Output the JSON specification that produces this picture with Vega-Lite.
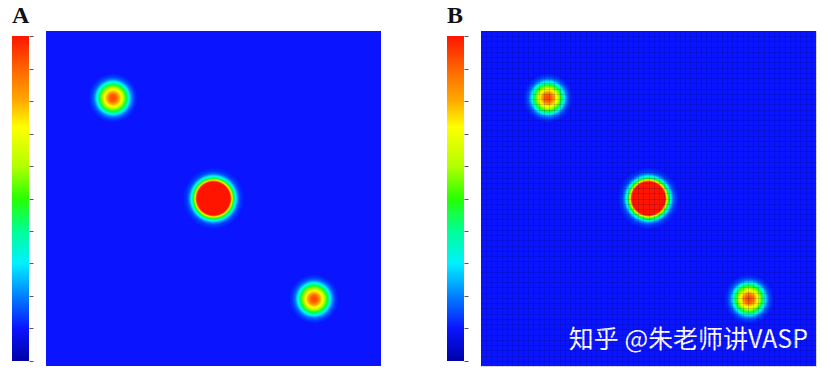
{
  "$schema": "https://vega.github.io/schema/vega-lite/v6.json",
  "padding": {"left": 12, "top": 4, "right": 5, "bottom": 5},
  "background": "#ffffff",
  "config": {"view": {"stroke": null}},
  "datasets": {
    "bg": [{"x0": 0, "x1": 64, "y0": 0, "y1": 64, "v": 0.1}],
    "bar": [{"lo": 0, "hi": 1}],
    "rings": [
      {"b": 1, "x": 12.8, "y": 51.2, "r": 5.16, "v": 0.11},
      {"b": 1, "x": 12.8, "y": 51.2, "r": 4.78, "v": 0.12},
      {"b": 1, "x": 12.8, "y": 51.2, "r": 4.59, "v": 0.135},
      {"b": 1, "x": 12.8, "y": 51.2, "r": 4.39, "v": 0.155},
      {"b": 1, "x": 12.8, "y": 51.2, "r": 4.2, "v": 0.18},
      {"b": 1, "x": 12.8, "y": 51.2, "r": 4.01, "v": 0.22},
      {"b": 1, "x": 12.8, "y": 51.2, "r": 3.82, "v": 0.26},
      {"b": 1, "x": 12.8, "y": 51.2, "r": 3.63, "v": 0.31},
      {"b": 1, "x": 12.8, "y": 51.2, "r": 3.44, "v": 0.36},
      {"b": 1, "x": 12.8, "y": 51.2, "r": 3.25, "v": 0.41},
      {"b": 1, "x": 12.8, "y": 51.2, "r": 3.06, "v": 0.45},
      {"b": 1, "x": 12.8, "y": 51.2, "r": 2.87, "v": 0.49},
      {"b": 1, "x": 12.8, "y": 51.2, "r": 2.67, "v": 0.53},
      {"b": 1, "x": 12.8, "y": 51.2, "r": 2.48, "v": 0.57},
      {"b": 1, "x": 12.8, "y": 51.2, "r": 2.29, "v": 0.62},
      {"b": 1, "x": 12.8, "y": 51.2, "r": 2.1, "v": 0.67},
      {"b": 1, "x": 12.8, "y": 51.2, "r": 1.91, "v": 0.72},
      {"b": 1, "x": 12.8, "y": 51.2, "r": 1.72, "v": 0.75},
      {"b": 1, "x": 12.8, "y": 51.2, "r": 1.53, "v": 0.79},
      {"b": 1, "x": 12.8, "y": 51.2, "r": 1.34, "v": 0.82},
      {"b": 1, "x": 12.8, "y": 51.2, "r": 1.15, "v": 0.855},
      {"b": 1, "x": 12.8, "y": 51.2, "r": 0.96, "v": 0.89},
      {"b": 1, "x": 12.8, "y": 51.2, "r": 0.76, "v": 0.91},
      {"b": 1, "x": 12.8, "y": 51.2, "r": 0.57, "v": 0.93},
      {"b": 1, "x": 12.8, "y": 51.2, "r": 0.29, "v": 0.95},
      {"b": 2, "x": 32, "y": 32, "r": 6.5, "v": 0.108},
      {"b": 2, "x": 32, "y": 32, "r": 6.11, "v": 0.118},
      {"b": 2, "x": 32, "y": 32, "r": 5.73, "v": 0.14},
      {"b": 2, "x": 32, "y": 32, "r": 5.54, "v": 0.16},
      {"b": 2, "x": 32, "y": 32, "r": 5.35, "v": 0.2},
      {"b": 2, "x": 32, "y": 32, "r": 5.16, "v": 0.25},
      {"b": 2, "x": 32, "y": 32, "r": 4.97, "v": 0.31},
      {"b": 2, "x": 32, "y": 32, "r": 4.78, "v": 0.37},
      {"b": 2, "x": 32, "y": 32, "r": 4.59, "v": 0.43},
      {"b": 2, "x": 32, "y": 32, "r": 4.39, "v": 0.5},
      {"b": 2, "x": 32, "y": 32, "r": 4.2, "v": 0.58},
      {"b": 2, "x": 32, "y": 32, "r": 4.01, "v": 0.68},
      {"b": 2, "x": 32, "y": 32, "r": 3.92, "v": 0.78},
      {"b": 2, "x": 32, "y": 32, "r": 3.82, "v": 0.88},
      {"b": 2, "x": 32, "y": 32, "r": 3.73, "v": 0.96},
      {"b": 2, "x": 32, "y": 32, "r": 3.63, "v": 1.0},
      {"b": 3, "x": 51.2, "y": 12.8, "r": 5.16, "v": 0.11},
      {"b": 3, "x": 51.2, "y": 12.8, "r": 4.78, "v": 0.12},
      {"b": 3, "x": 51.2, "y": 12.8, "r": 4.59, "v": 0.135},
      {"b": 3, "x": 51.2, "y": 12.8, "r": 4.39, "v": 0.155},
      {"b": 3, "x": 51.2, "y": 12.8, "r": 4.2, "v": 0.18},
      {"b": 3, "x": 51.2, "y": 12.8, "r": 4.01, "v": 0.22},
      {"b": 3, "x": 51.2, "y": 12.8, "r": 3.82, "v": 0.26},
      {"b": 3, "x": 51.2, "y": 12.8, "r": 3.63, "v": 0.31},
      {"b": 3, "x": 51.2, "y": 12.8, "r": 3.44, "v": 0.36},
      {"b": 3, "x": 51.2, "y": 12.8, "r": 3.25, "v": 0.41},
      {"b": 3, "x": 51.2, "y": 12.8, "r": 3.06, "v": 0.45},
      {"b": 3, "x": 51.2, "y": 12.8, "r": 2.87, "v": 0.49},
      {"b": 3, "x": 51.2, "y": 12.8, "r": 2.67, "v": 0.53},
      {"b": 3, "x": 51.2, "y": 12.8, "r": 2.48, "v": 0.57},
      {"b": 3, "x": 51.2, "y": 12.8, "r": 2.29, "v": 0.62},
      {"b": 3, "x": 51.2, "y": 12.8, "r": 2.1, "v": 0.67},
      {"b": 3, "x": 51.2, "y": 12.8, "r": 1.91, "v": 0.72},
      {"b": 3, "x": 51.2, "y": 12.8, "r": 1.72, "v": 0.75},
      {"b": 3, "x": 51.2, "y": 12.8, "r": 1.53, "v": 0.79},
      {"b": 3, "x": 51.2, "y": 12.8, "r": 1.34, "v": 0.82},
      {"b": 3, "x": 51.2, "y": 12.8, "r": 1.15, "v": 0.855},
      {"b": 3, "x": 51.2, "y": 12.8, "r": 0.96, "v": 0.89},
      {"b": 3, "x": 51.2, "y": 12.8, "r": 0.76, "v": 0.91},
      {"b": 3, "x": 51.2, "y": 12.8, "r": 0.57, "v": 0.93},
      {"b": 3, "x": 51.2, "y": 12.8, "r": 0.29, "v": 0.95}
    ]
  },
  "spacing": 66,
  "hconcat": [
    {
      "spacing": 12,
      "hconcat": [
        {
          "width": 17,
          "height": 335,
          "title": {"text": "A", "anchor": "start", "frame": "group", "font": "Liberation Serif", "fontSize": 24, "fontWeight": "bold", "color": "#111111", "offset": 3},
          "data": {"name": "bar"},
          "mark": {"type": "rect", "fill": {"gradient": "linear", "x1": 0, "y1": 0, "x2": 0, "y2": 1, "stops": [
            {"offset": 0, "color": "#ff1400"}, {"offset": 0.1, "color": "#ff6400"}, {"offset": 0.2, "color": "#ffaa00"},
            {"offset": 0.28, "color": "#ffff00"}, {"offset": 0.4, "color": "#b4ff00"}, {"offset": 0.5, "color": "#28ff00"},
            {"offset": 0.6, "color": "#00ff96"}, {"offset": 0.7, "color": "#00f0ff"}, {"offset": 0.8, "color": "#0080ff"},
            {"offset": 0.9, "color": "#0a14ff"}, {"offset": 1, "color": "#0000a8"}]}},
          "encoding": {
            "y": {"field": "lo", "type": "quantitative", "scale": {"domain": [-0.0154, 1.0154], "nice": false, "zero": false},
              "axis": {"orient": "right", "values": [0, 0.1, 0.2, 0.3, 0.4, 0.5, 0.6, 0.7, 0.8, 0.9, 1], "labels": false, "domain": false, "grid": false, "ticks": true, "tickSize": 4, "tickColor": "#555555", "tickWidth": 1, "title": null}},
            "y2": {"field": "hi"}
          }
        },
        {
          "width": 335,
          "height": 335,
          "layer": [
            {
              "data": {"name": "bg"},
              "mark": {"type": "rect"},
              "encoding": {
                "x": {"field": "x0", "type": "quantitative", "scale": {"domain": [0, 64], "nice": false, "zero": false}, "axis": null},
                "x2": {"field": "x1"},
                "y": {"field": "y0", "type": "quantitative", "scale": {"domain": [0, 64], "nice": false, "zero": false}, "axis": null},
                "y2": {"field": "y1"},
                "color": {"field": "v", "type": "quantitative", "legend": null, "scale": {"domain": [0, 0.1, 0.2, 0.3, 0.4, 0.5, 0.6, 0.72, 0.8, 0.9, 1], "range": ["#0000a8", "#0a14ff", "#0080ff", "#00f0ff", "#00ff96", "#28ff00", "#b4ff00", "#ffff00", "#ffaa00", "#ff6400", "#ff1400"]}}
              }
            },
            {
              "data": {"name": "rings"},
              "mark": {"type": "circle", "opacity": 1, "strokeWidth": 0},
              "encoding": {
                "x": {"field": "x", "type": "quantitative", "axis": null},
                "y": {"field": "y", "type": "quantitative", "axis": null},
                "size": {"field": "r", "type": "quantitative", "legend": null, "scale": {"type": "pow", "exponent": 2, "domain": [0, 64], "range": [0, 352565]}},
                "color": {"field": "v", "type": "quantitative", "legend": null, "scale": {"domain": [0, 0.1, 0.2, 0.3, 0.4, 0.5, 0.6, 0.72, 0.8, 0.9, 1], "range": ["#0000a8", "#0a14ff", "#0080ff", "#00f0ff", "#00ff96", "#28ff00", "#b4ff00", "#ffff00", "#ffaa00", "#ff6400", "#ff1400"]}},
                "order": {"field": "r", "sort": "descending"}
              }
            }
          ]
        }
      ]
    },
    {
      "spacing": 12,
      "hconcat": [
        {
          "width": 17,
          "height": 335,
          "title": {"text": "B", "anchor": "start", "frame": "group", "font": "Liberation Serif", "fontSize": 24, "fontWeight": "bold", "color": "#111111", "offset": 3},
          "data": {"name": "bar"},
          "mark": {"type": "rect", "fill": {"gradient": "linear", "x1": 0, "y1": 0, "x2": 0, "y2": 1, "stops": [
            {"offset": 0, "color": "#ff1400"}, {"offset": 0.1, "color": "#ff6400"}, {"offset": 0.2, "color": "#ffaa00"},
            {"offset": 0.28, "color": "#ffff00"}, {"offset": 0.4, "color": "#b4ff00"}, {"offset": 0.5, "color": "#28ff00"},
            {"offset": 0.6, "color": "#00ff96"}, {"offset": 0.7, "color": "#00f0ff"}, {"offset": 0.8, "color": "#0080ff"},
            {"offset": 0.9, "color": "#0a14ff"}, {"offset": 1, "color": "#0000a8"}]}},
          "encoding": {
            "y": {"field": "lo", "type": "quantitative", "scale": {"domain": [-0.0154, 1.0154], "nice": false, "zero": false},
              "axis": {"orient": "right", "values": [0, 0.1, 0.2, 0.3, 0.4, 0.5, 0.6, 0.7, 0.8, 0.9, 1], "labels": false, "domain": false, "grid": false, "ticks": true, "tickSize": 4, "tickColor": "#555555", "tickWidth": 1, "title": null}},
            "y2": {"field": "hi"}
          }
        },
        {
          "width": 335,
          "height": 335,
          "title": {"text": "知乎 @朱老师讲VASP", "orient": "bottom", "anchor": "end", "frame": "group", "offset": -18, "baseline": "alphabetic", "dx": -8, "font": "Noto Sans CJK SC", "fontSize": 25, "fontWeight": "normal", "color": "#ffffff"},
          "layer": [
            {
              "data": {"name": "bg"},
              "mark": {"type": "rect"},
              "encoding": {
                "x": {"field": "x0", "type": "quantitative", "scale": {"domain": [0, 64], "nice": false, "zero": false},
                  "axis": {"orient": "bottom", "tickCount": 64, "grid": true, "gridColor": "#000040", "gridOpacity": 0.15, "gridWidth": 1, "labels": false, "ticks": false, "domain": false, "zindex": 1, "title": null}},
                "x2": {"field": "x1"},
                "y": {"field": "y0", "type": "quantitative", "scale": {"domain": [0, 64], "nice": false, "zero": false},
                  "axis": {"orient": "left", "tickCount": 64, "grid": true, "gridColor": "#000040", "gridOpacity": 0.15, "gridWidth": 1, "labels": false, "ticks": false, "domain": false, "zindex": 1, "title": null}},
                "y2": {"field": "y1"},
                "color": {"field": "v", "type": "quantitative", "legend": null, "scale": {"domain": [0, 0.1, 0.2, 0.3, 0.4, 0.5, 0.6, 0.72, 0.8, 0.9, 1], "range": ["#0000a8", "#0a14ff", "#0080ff", "#00f0ff", "#00ff96", "#28ff00", "#b4ff00", "#ffff00", "#ffaa00", "#ff6400", "#ff1400"]}}
              }
            },
            {
              "data": {"name": "rings"},
              "mark": {"type": "circle", "opacity": 1, "strokeWidth": 0},
              "encoding": {
                "x": {"field": "x", "type": "quantitative"},
                "y": {"field": "y", "type": "quantitative"},
                "size": {"field": "r", "type": "quantitative", "legend": null, "scale": {"type": "pow", "exponent": 2, "domain": [0, 64], "range": [0, 352565]}},
                "color": {"field": "v", "type": "quantitative", "legend": null, "scale": {"domain": [0, 0.1, 0.2, 0.3, 0.4, 0.5, 0.6, 0.72, 0.8, 0.9, 1], "range": ["#0000a8", "#0a14ff", "#0080ff", "#00f0ff", "#00ff96", "#28ff00", "#b4ff00", "#ffff00", "#ffaa00", "#ff6400", "#ff1400"]}},
                "order": {"field": "r", "sort": "descending"}
              }
            }
          ]
        }
      ]
    }
  ]
}
